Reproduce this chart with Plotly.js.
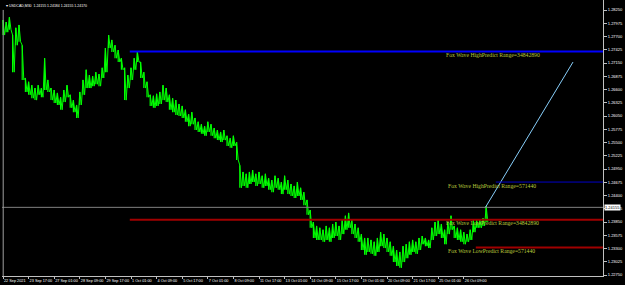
<!DOCTYPE html>
<html>
<head>
<meta charset="utf-8">
<script src="https://cdn.plot.ly/plotly-3.0.1.min.js"></script>
<style>html,body{margin:0;padding:0;background:#000;}#chart{width:625px;height:285px;}</style>
</head>
<body>
<div id="chart"></div>
<script>
// Sampled every 8 M30 bars (4 hours); bar index of each sample = i*8
const highs = [1.2804,1.2800,1.2810,1.2773,1.2788,1.2794,1.2752,1.2684,1.2676,1.2669,1.2663,1.2669,1.2663,1.2725,1.2680,1.2663,1.2659,1.2653,1.2644,1.2659,
1.2669,1.2649,1.2638,1.2628,1.2655,1.2680,1.2701,1.2690,1.2688,1.2696,1.2692,1.2705,1.2746,1.2773,1.2763,1.2752,1.2742,1.2725,1.2705,1.2690,
1.2705,1.2725,1.2738,1.2717,1.2696,1.2676,1.2649,1.2647,1.2651,1.2655,1.2669,1.2663,1.2649,1.2642,1.2638,1.2630,1.2626,1.2618,1.2609,1.2613,
1.2601,1.2593,1.2588,1.2584,1.2593,1.2588,1.2580,1.2576,1.2572,1.2576,1.2564,1.2559,1.2564,1.2551,1.2503,1.2489,1.2485,1.2489,1.2493,1.2485,
1.2489,1.2481,1.2485,1.2476,1.2472,1.2481,1.2476,1.2468,1.2481,1.2472,1.2464,1.2460,1.2468,1.2456,1.2447,1.2431,1.2410,1.2385,1.2377,1.2373,
1.2369,1.2377,1.2373,1.2381,1.2385,1.2377,1.2389,1.2398,1.2404,1.2389,1.2381,1.2373,1.2360,1.2352,1.2352,1.2348,1.2344,1.2352,1.2364,1.2360,
1.2352,1.2344,1.2335,1.2327,1.2323,1.2335,1.2339,1.2344,1.2348,1.2344,1.2352,1.2356,1.2352,1.2348,1.2373,1.2385,1.2389,1.2381,1.2369,1.2385,
1.2398,1.2377,1.2373,1.2369,1.2364,1.2360,1.2369,1.2389,1.2389,1.2389,1.2393,1.2418];
const lows = [1.2773,1.2779,1.2784,1.2696,1.2752,1.2759,1.2680,1.2655,1.2649,1.2642,1.2638,1.2649,1.2644,1.2659,1.2655,1.2638,1.2632,1.2628,1.2618,1.2634,
1.2644,1.2622,1.2613,1.2601,1.2628,1.2649,1.2663,1.2663,1.2667,1.2671,1.2667,1.2684,1.2696,1.2746,1.2738,1.2725,1.2717,1.2701,1.2638,1.2663,
1.2680,1.2701,1.2717,1.2684,1.2663,1.2644,1.2626,1.2622,1.2626,1.2630,1.2638,1.2634,1.2618,1.2613,1.2607,1.2605,1.2601,1.2593,1.2584,1.2588,
1.2576,1.2572,1.2568,1.2564,1.2572,1.2564,1.2559,1.2555,1.2551,1.2555,1.2543,1.2539,1.2543,1.2514,1.2456,1.2460,1.2456,1.2464,1.2468,1.2460,
1.2464,1.2456,1.2460,1.2452,1.2447,1.2456,1.2452,1.2443,1.2452,1.2443,1.2439,1.2435,1.2439,1.2431,1.2420,1.2400,1.2373,1.2352,1.2348,1.2348,
1.2344,1.2348,1.2344,1.2352,1.2356,1.2348,1.2360,1.2369,1.2373,1.2360,1.2352,1.2344,1.2327,1.2317,1.2323,1.2319,1.2315,1.2323,1.2335,1.2331,
1.2323,1.2315,1.2302,1.2294,1.2290,1.2302,1.2310,1.2317,1.2323,1.2319,1.2327,1.2339,1.2335,1.2331,1.2348,1.2356,1.2360,1.2352,1.2339,1.2360,
1.2369,1.2352,1.2348,1.2344,1.2339,1.2344,1.2348,1.2364,1.2373,1.2373,1.2377,1.2385];
const barStep = 8;
const xTickBars = [0,64,128,192,256,320,384,448,512,576,640,704,768,832,896,960,1024,1088,1152];
const xTickLabels = ["22 Sep 2021","23 Sep 17:00","27 Sep 01:00","28 Sep 09:00","29 Sep 17:00","1 Oct 01:00","4 Oct 09:00","5 Oct 17:00","7 Oct 01:00","8 Oct 09:00","11 Oct 17:00","13 Oct 01:00","14 Oct 09:00","15 Oct 17:00","19 Oct 01:00","20 Oct 09:00","21 Oct 17:00","25 Oct 01:00","26 Oct 09:00"];
const yTicks = [1.28250,1.27975,1.27700,1.27425,1.27150,1.26875,1.26600,1.26325,1.26050,1.25775,1.25500,1.25225,1.24950,1.24675,1.24400,1.24125,1.23850,1.23575,1.23300,1.23025,1.22750];
const currentPrice = 1.24155;
const headerText = "\u25BE USDCAD,M30  1.24155 1.24184 1.24155 1.24170";
// Fox Wave levels: [startBar, price]
const highWideLevel = [317, 1.2739];
const lowWideLevel = [317, 1.2390];
const highNarrowLevel = [1232, 1.2468];
const lowNarrowLevel = [1182, 1.2332];
const projection = {x:[1205,1425], y:[1.2414,1.2717]};
const labels = [
  {text:"Fox Wave HighPredict Range=34842890", x:1102, y:1.2732},
  {text:"Fox Wave HighPredict Range=571440", x:1108, y:1.2460},
  {text:"Fox Wave LowPredict Range=34842890", x:1102, y:1.2383},
  {text:"Fox Wave LowPredict Range=571440", x:1108, y:1.2325}
];

const xs = highs.map((_, i) => i * barStep);
const xMax = 1500;

// zigzag path through each sample's high and low (bar-chart look)
const zx = [], zy = [];
highs.forEach((h, i) => { zx.push(i * barStep, i * barStep + barStep / 2); zy.push(h, lows[i]); });

const traces = [
  {type:'bar', x:xs, base:lows, y:highs.map((h,i)=>h-lows[i]), width:3,
   marker:{color:'#00ff00', line:{width:0}}, hoverinfo:'skip', showlegend:false},
  {type:'scatter', mode:'lines', x:zx, y:zy, line:{color:'#00ff00', width:1},
   hoverinfo:'skip', showlegend:false},
  {type:'scatter', mode:'lines', x:projection.x, y:projection.y,
   line:{color:'#87cefa', width:1}, hoverinfo:'skip', showlegend:false}
];

function hline(x0, y, color, w) {
  return {type:'line', xref:'x', yref:'y', x0:x0, x1:xMax, y0:y, y1:y, line:{color:color, width:w}, layer:'above'};
}

const tickFont = {family:'Liberation Sans, Arial', size:3.8, color:'#ffffff'};

const layout = {
  width:625, height:285,
  paper_bgcolor:'#000', plot_bgcolor:'#000',
  margin:{l:2, r:22, t:0, b:9},
  barmode:'overlay',
  showlegend:false,
  xaxis:{range:[-2.5, xMax], tickvals:xTickBars, ticktext:xTickLabels, tickangle:0,
    ticks:'outside', ticklen:2, tickcolor:'#c0c0c0', ticklabelposition:'outside right', ticklabelstandoff:0,
    showgrid:false, zeroline:false, showline:true, linecolor:'#c0c0c0', linewidth:1,
    tickfont:tickFont, fixedrange:true},
  yaxis:{range:[1.227305, 1.284575], side:'right', tickvals:yTicks,
    ticktext:yTicks.map(v=>v.toFixed(5)), ticks:'outside', ticklen:3, tickcolor:'#c0c0c0',
    showgrid:false, zeroline:false, showline:true, linecolor:'#c0c0c0', linewidth:1,
    tickfont:{family:'Liberation Sans, Arial', size:4, color:'#ffffff'}, fixedrange:true},
  shapes:[
    {type:'line', xref:'paper', yref:'y', x0:0, x1:1, y0:currentPrice, y1:currentPrice, line:{color:'#808080', width:1}},
    hline(highWideLevel[0], highWideLevel[1], '#0000ff', 2),
    hline(lowWideLevel[0], lowWideLevel[1], '#a00000', 2),
    hline(highNarrowLevel[0], highNarrowLevel[1], '#0000c8', 1),
    hline(lowNarrowLevel[0], lowNarrowLevel[1], '#a00000', 2),
    {type:'line', xref:'paper', yref:'paper', x0:0.002, x1:0.002, y0:0, y1:0.964, line:{color:'#a0a0a0', width:1}}
  ],
  annotations: labels.map(l => ({text:l.text, x:l.x, y:l.y, xref:'x', yref:'y', xanchor:'left', yanchor:'middle',
      showarrow:false, font:{family:'Liberation Serif, Times New Roman', size:5.7, color:'#b8c83c'}})).concat([
    {text:headerText, xref:'paper', yref:'paper', x:0.003, y:1, xanchor:'left', yanchor:'top', yshift:-2,
      showarrow:false, font:{family:'Liberation Sans, Arial', size:3.5, color:'#ffffff'}},
    {text:currentPrice.toFixed(5), xref:'paper', yref:'y', x:1, y:currentPrice, xanchor:'left', yanchor:'middle', xshift:1,
      showarrow:false, bgcolor:'#ffffff', borderpad:0, font:{family:'Liberation Sans, Arial', size:4, color:'#000000'}}
  ])
};

Plotly.newPlot('chart', traces, layout, {staticPlot:true, displayModeBar:false});
</script>
</body>
</html>
